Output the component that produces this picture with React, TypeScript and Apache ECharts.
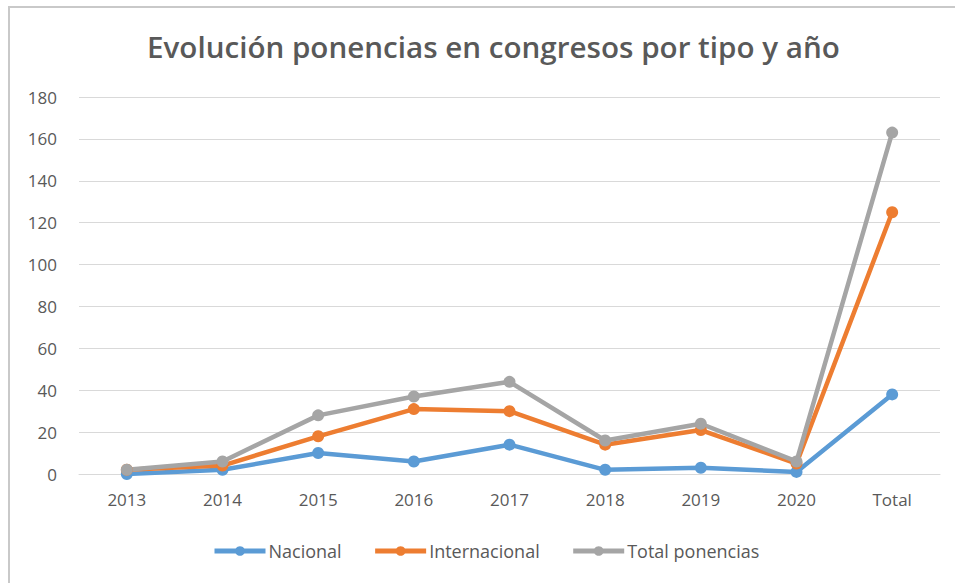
import React, { useEffect, useRef } from "react";
import * as echarts from "echarts";

const categories = ["2013", "2014", "2015", "2016", "2017", "2018", "2019", "2020", "Total"];
const nacional = [0, 2, 10, 6, 14, 2, 3, 1, 38];
const internacional = [2, 4, 18, 31, 30, 14, 21, 5, 125];
const totalPonencias = [2, 6, 28, 37, 44, 16, 24, 6, 163];

const FONT = "Open Sans";
const TEXT = "#595959";

export default function App() {
  const ref = useRef<HTMLDivElement>(null);
  useEffect(() => {
    const chart = echarts.init(ref.current!, null, { renderer: "svg" });
    const mk = (name: string, data: number[], color: string) => ({
      name,
      type: "line",
      data,
      symbol: "circle",
      symbolSize: 12,
      lineStyle: { width: 4.5, color },
      itemStyle: { color },
      z: 2,
    });
    chart.setOption({
      animation: false,
      backgroundColor: "#ffffff",
      textStyle: { fontFamily: FONT },
      title: {
        text: "Evolución ponencias en congresos por tipo y año",
        left: 142,
        top: 26,
        textStyle: { fontFamily: FONT, fontSize: 29.6, fontWeight: 600, color: TEXT },
      },
      graphic: [
        { type: "line", shape: { x1: 8, y1: 7, x2: 955, y2: 7 }, style: { stroke: "#c9c9c9", lineWidth: 2 } },
        { type: "line", shape: { x1: 9, y1: 7, x2: 9, y2: 583 }, style: { stroke: "#c9c9c9", lineWidth: 2 } },
      ],
      grid: { left: 79, right: 15, top: 97, bottom: 109 },
      legend: {
        left: 207,
        top: 537,
        itemWidth: 51,
        itemHeight: 12,
        itemGap: 31,
        lineStyle: { width: 5 },
        textStyle: { fontFamily: FONT, fontSize: 18, color: TEXT, padding: [0, 0, 0, -2] },
        data: ["Nacional", "Internacional", "Total ponencias"],
      },
      xAxis: {
        type: "category",
        data: categories,
        boundaryGap: true,
        axisLine: { show: true, lineStyle: { color: "#d9d9d9", width: 1 } },
        axisTick: { show: false },
        axisLabel: { fontFamily: FONT, fontSize: 17, color: TEXT, margin: 17 },
      },
      yAxis: {
        type: "value",
        min: 0,
        max: 180,
        interval: 20,
        axisLine: { show: false },
        axisTick: { show: false },
        splitLine: { lineStyle: { color: "#d9d9d9", width: 1 } },
        axisLabel: { fontFamily: FONT, fontSize: 17, color: TEXT, margin: 22 },
      },
      series: [
        mk("Nacional", nacional, "#5B9BD5"),
        mk("Internacional", internacional, "#ED7D31"),
        mk("Total ponencias", totalPonencias, "#A5A5A5"),
      ],
    });
    return () => chart.dispose();
  }, []);
  return (
    <div
      ref={ref}
      style={{ position: "fixed", left: 0, top: 0, width: 955, height: 583 }}
    />
  );
}
